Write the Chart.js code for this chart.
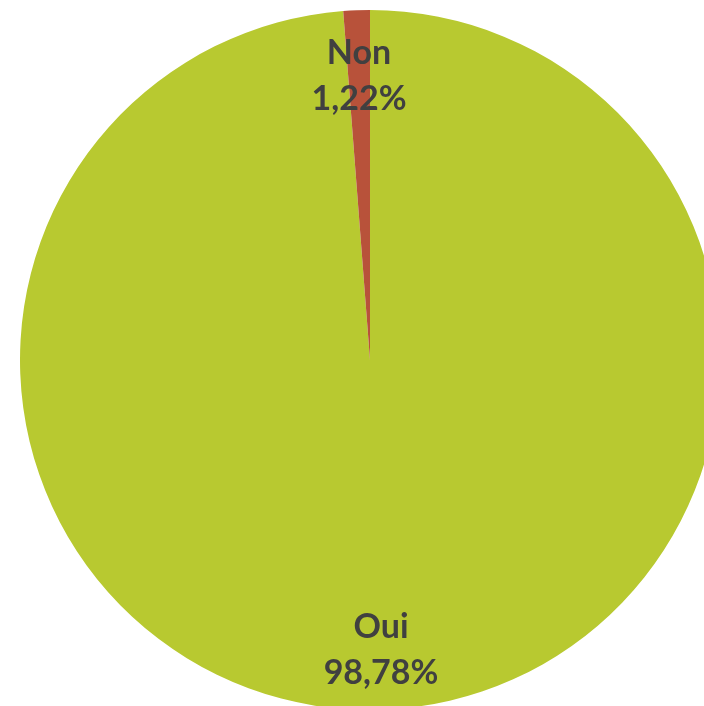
<!DOCTYPE html>
<html>
<head>
<meta charset="utf-8">
<script src="https://cdn.jsdelivr.net/npm/chart.js@4/dist/chart.umd.min.js"></script>
<style>
  html, body { margin: 0; padding: 0; overflow: hidden; background: #ffffff; }
  #wrap { position: absolute; left: 0; top: 0; width: 720px; height: 710px; }
</style>
</head>
<body>
<div id="wrap"><canvas id="pie"></canvas></div>
<script>
const categories = ["Oui", "Non"];
const shares = [98.78, 1.22];
const sliceColors = ["#B8C930", "#B8523A"];

// Writes "Catégorie" and "xx,xx%" inside each slice, along its middle angle
const sliceLabels = {
  id: "sliceLabels",
  afterDatasetsDraw(chart) {
    const ctx = chart.ctx;
    const meta = chart.getDatasetMeta(0);
    ctx.save();
    ctx.fillStyle = "#404040";
    ctx.textAlign = "center";
    ctx.textBaseline = "middle";
    ctx.font = "bold 34px Lato, 'Open Sans', sans-serif";
    meta.data.forEach((arc, i) => {
      const p = arc.getProps(["x", "y", "startAngle", "endAngle", "outerRadius"], true);
      const mid = (p.startAngle + p.endAngle) / 2;
      const r = p.outerRadius * 0.82;
      const cx = p.x + Math.cos(mid) * r;
      const cy = p.y + Math.sin(mid) * r + 3;
      const pct = shares[i].toFixed(2).replace(".", ",") + "%";
      ctx.fillText(categories[i], cx, cy - 23);
      ctx.fillText(pct, cx, cy + 23);
    });
    ctx.restore();
  }
};

new Chart(document.getElementById("pie"), {
  type: "pie",
  data: {
    labels: categories,
    datasets: [{
      data: shares,
      backgroundColor: sliceColors,
      borderWidth: 0
    }]
  },
  options: {
    responsive: true,
    maintainAspectRatio: false,
    animation: false,
    layout: { padding: { left: 20, top: 10, right: 0, bottom: 0 } },
    plugins: {
      legend: { display: false },
      tooltip: { enabled: false }
    }
  },
  plugins: [sliceLabels]
});
</script>
</body>
</html>
